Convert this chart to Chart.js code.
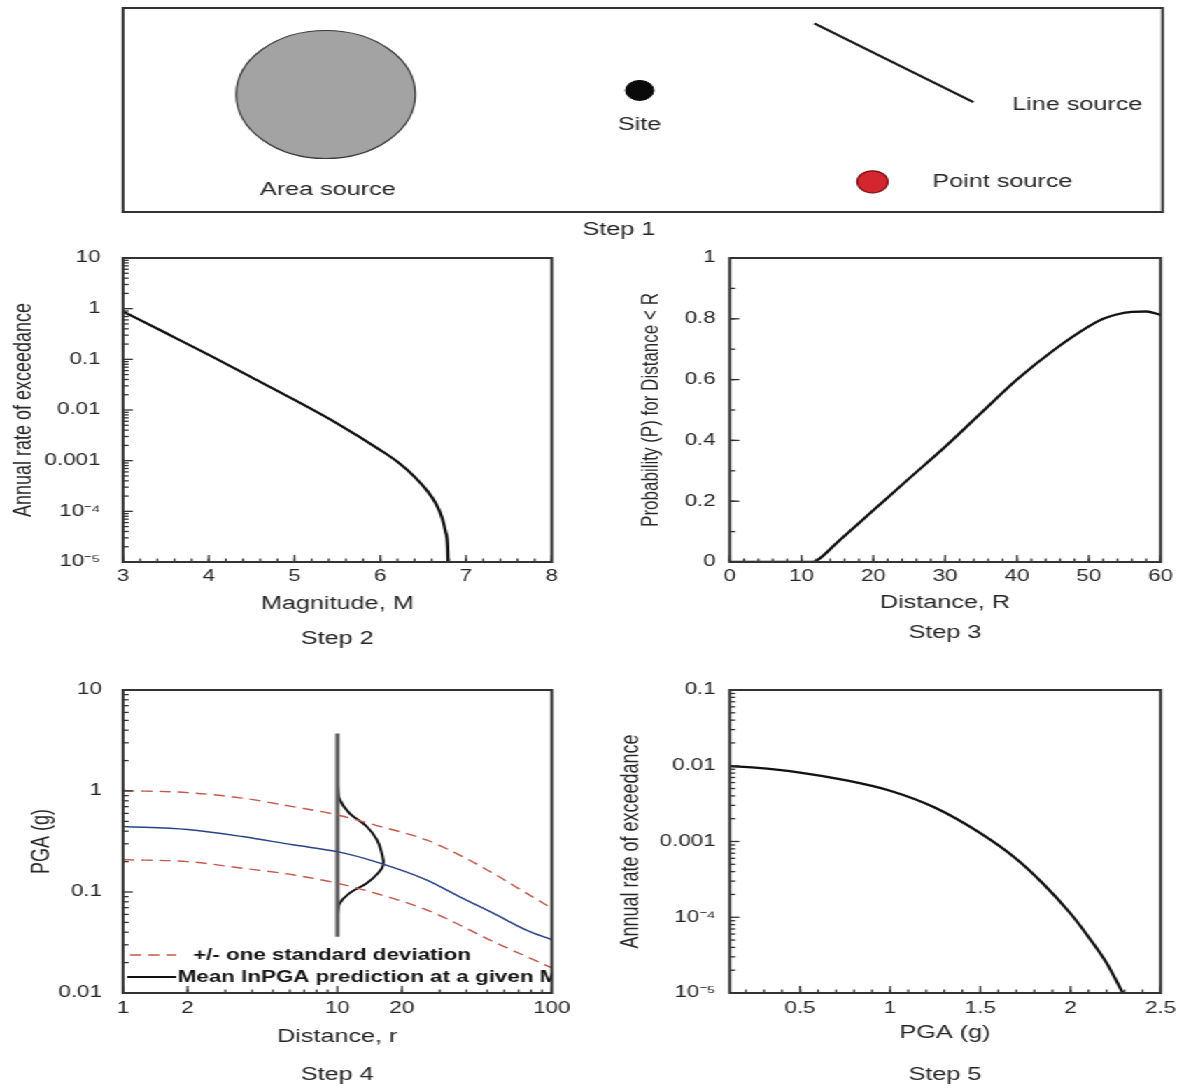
<!DOCTYPE html>
<html>
<head>
<meta charset="utf-8">
<script src="https://cdn.jsdelivr.net/npm/chart.js@4.4.0/dist/chart.umd.min.js"></script>
<style>
  html, body { margin: 0; padding: 0; background: #fff; overflow: hidden; }
  /* the source figure is stretched sideways, so the whole page is too */
  #page { position: relative; width: 846px; height: 1092px; transform: scaleX(1.3995); transform-origin: 0 0; }
  #page canvas { position: absolute; }
</style>
</head>
<body>
<div id="page">
  <canvas id="step1" width="846" height="250" style="left:0;top:0"></canvas>
  <canvas id="step2" width="423" height="420" style="left:0;top:240px"></canvas>
  <canvas id="step3" width="423" height="420" style="left:423px;top:240px"></canvas>
  <canvas id="step4" width="423" height="422" style="left:0;top:670px"></canvas>
  <canvas id="step5" width="423" height="422" style="left:423px;top:670px"></canvas>
</div>
<script>
const FONT = "'Liberation Sans', Arial, Helvetica, sans-serif";
const INK = '#262626';

// Step 1 - source map, positions in percent of the map frame
const mapNames = ['Area source', 'Site', 'Line source', 'Point source'];
const mapNameX = [19.7, 49.7, 91.8, 84.6];
const mapNameY = [10.8, 42.8, 52.5, 14.8];
const areaSrcX = [19.5], areaSrcY = [57.6];
const siteX = [49.7], siteY = [59.6];
const lineSrcX = [66.5, 81.8], lineSrcY = [92.5, 53.9];
const pointSrcX = [72.1], pointSrcY = [14.8];

// Step 2 - magnitude recurrence
const magM = [3.0, 3.5, 4.0, 4.5, 5.0, 5.5, 6.0, 6.2, 6.4, 6.55, 6.65, 6.72, 6.76, 6.785, 6.79];
const magRate = [0.88, 0.33, 0.1225, 0.044, 0.0158, 0.0054, 0.00162, 0.00095, 0.00048, 0.00025, 0.00014, 0.000075, 0.00004, 0.00002, 0.00001];
const magTicks = [3, 4, 5, 6, 7, 8];
const rate2Ticks = [1e-5, 1e-4, 1e-3, 0.01, 0.1, 1, 10];
const rate2Labels = ['10⁻⁵', '10⁻⁴', '0.001', '0.01', '0.1', '1', '10'];

// Step 3 - distance distribution
const distR = [0, 5, 10, 11.6, 12.5, 15, 20, 25, 30, 35, 40, 45, 50, 52, 54, 56, 58, 60];
const probR = [0, 0, 0, 0, 0.011, 0.065, 0.17, 0.275, 0.379, 0.49, 0.6, 0.695, 0.775, 0.8, 0.815, 0.823, 0.824, 0.813];
const distTicks = [0, 10, 20, 30, 40, 50, 60];
const probTicks = [0, 0.2, 0.4, 0.6, 0.8, 1];

// Step 4 - ground motion prediction
const distr = [1, 2, 3.6, 6.2, 10, 15, 26, 37, 53, 76, 100];
const pgaMean = [0.445, 0.415, 0.354, 0.293, 0.251, 0.2, 0.132, 0.09, 0.062, 0.042, 0.0337];
const pgaPlus = [1.01, 0.964, 0.85, 0.70, 0.58, 0.46, 0.328, 0.233, 0.154, 0.0975, 0.069];
const pgaMinus = [0.209, 0.2, 0.172, 0.148, 0.122, 0.0975, 0.0667, 0.0474, 0.0324, 0.023, 0.0177];
const pdfBaseX = [10, 10], pdfBaseY = [0.036, 3.7];
const pdfX = [10, 10.27, 11.4, 13.7, 15.3, 16.1, 16.35, 15.5, 13.7, 11.4, 10.27, 10];
const pdfY = [1.106, 0.817, 0.60, 0.445, 0.328, 0.242, 0.186, 0.154, 0.122, 0.0975, 0.0776, 0.0618];
const r4Ticks = [1, 2, 10, 20, 100];
const pga4Ticks = [0.01, 0.1, 1, 10];
const legend4 = ['+/- one standard deviation', 'Mean lnPGA prediction at a given M'];

// Step 5 - hazard curve
const pga5 = [0.11, 0.25, 0.5, 0.75, 1.0, 1.25, 1.5, 1.7, 1.85, 2.0, 2.1, 2.2, 2.29];
const haz5 = [0.0099, 0.00944, 0.00813, 0.00646, 0.00468, 0.00279, 0.00129, 0.000589, 0.000275, 0.000112, 0.000055, 0.000025, 0.00001];
const pga5Ticks = [0.5, 1, 1.5, 2, 2.5];
const rate5Ticks = [1e-5, 1e-4, 1e-3, 0.01, 0.1];
const rate5Labels = ['10⁻⁵', '10⁻⁴', '0.001', '0.01', '0.1'];

const pts = (xs, ys) => xs.map((x, i) => ({x: x, y: ys[i]}));

function logMinor(lo, hi) {
    const out = [];
    for (let e = Math.floor(Math.log10(lo)); e < Math.ceil(Math.log10(hi)); e++) {
        for (let k = 2; k <= 9; k++) {
            const v = k * Math.pow(10, e);
            if (v > lo && v < hi) out.push(v);
        }
    }
    return out;
}
function linMinor(lo, hi, step) {
    const out = [];
    for (let v = lo; v <= hi + 1e-9; v += step) out.push(+v.toFixed(4));
    return out;
}

// box round the plot area with small ticks pointing in
function frame(xMinor, yMinor) {
    return {
        id: 'frame',
        afterDraw(chart) {
            const {ctx, chartArea: a, scales} = chart;
            ctx.save();
            ctx.strokeStyle = '#333';
            ctx.lineWidth = 1.3;
            const mark = (scale, vals, len) => vals.forEach(v => {
                const p = scale.getPixelForValue(v);
                ctx.beginPath();
                if (scale.isHorizontal()) { ctx.moveTo(p, a.bottom); ctx.lineTo(p, a.bottom - len); }
                else { ctx.moveTo(a.left, p); ctx.lineTo(a.left + len, p); }
                ctx.stroke();
            });
            if (xMinor) {
                mark(scales.x, scales.x.ticks.map(t => t.value), 7);
                mark(scales.x, xMinor, 3.5);
                mark(scales.y, scales.y.ticks.map(t => t.value), 7);
                mark(scales.y, yMinor, 4);
            }
            ctx.lineWidth = 2;
            ctx.strokeRect(a.left, a.top, a.right - a.left, a.bottom - a.top);
            ctx.restore();
        }
    };
}

function caption(text, dy, xVal) {
    return {
        id: 'caption',
        afterDraw(chart) {
            const {ctx, chartArea: a} = chart;
            const x = xVal === undefined ? (a.left + a.right) / 2 : chart.scales.x.getPixelForValue(xVal);
            ctx.save();
            ctx.font = '18px ' + FONT;
            ctx.fillStyle = INK;
            ctx.textAlign = 'center';
            ctx.textBaseline = 'middle';
            ctx.fillText(text, x, a.bottom + dy);
            ctx.restore();
        }
    };
}

function axis(a, horiz) {
    return {
        type: a.type,
        min: a.min,
        max: a.max,
        grid: { display: false, drawTicks: false },
        border: { display: false },
        ticks: {
            autoSkip: false, maxRotation: 0, padding: a.tickPad, color: INK,
            font: { family: FONT, size: 16 },
            callback: (v, i) => a.labels ? a.labels[i] : String(a.ticks[i])
        },
        afterBuildTicks: s => { s.ticks = a.ticks.map(v => ({value: v})); },
        afterFit: s => {
            if (horiz) s.height = a.size; else s.width = a.size;
            s.paddingLeft = s.paddingRight = s.paddingTop = s.paddingBottom = 0;
        },
        title: {
            display: true, text: a.title, color: INK,
            font: { family: FONT, size: a.titleSize || 18 },
            padding: horiz ? {top: 0, bottom: 0} : {top: a.titlePad, bottom: 0}
        }
    };
}

function plot(id, c) {
    return new Chart(document.getElementById(id), {
        type: 'line',
        data: { datasets: c.datasets },
        options: {
            responsive: false, devicePixelRatio: 1, animation: false, events: [],
            layout: { padding: c.pad, autoPadding: false },
            elements: { point: { radius: 0 } },
            plugins: { legend: { display: false }, tooltip: { enabled: false } },
            scales: { x: axis(c.x, true), y: axis(c.y, false) }
        },
        plugins: [frame(c.xMinor, c.yMinor), caption(c.step, c.stepDy)].concat(c.extra || [])
    });
}

// ---- Step 1 ----
const mapLabels = {
    id: 'mapLabels',
    afterDraw(chart) {
        const {ctx, scales} = chart;
        ctx.save();
        ctx.font = '18px ' + FONT;
        ctx.fillStyle = INK;
        ctx.textAlign = 'center';
        ctx.textBaseline = 'middle';
        mapNames.forEach((n, i) => ctx.fillText(n, scales.x.getPixelForValue(mapNameX[i]), scales.y.getPixelForValue(mapNameY[i])));
        ctx.restore();
    }
};

new Chart(document.getElementById('step1'), {
    type: 'scatter',
    data: {
        datasets: [
            { data: pts(areaSrcX, areaSrcY), pointRadius: 64, backgroundColor: '#a3a3a3', borderColor: '#3a3a3a', borderWidth: 1.2 },
            { data: pts(siteX, siteY), pointRadius: 10, backgroundColor: '#0a0a0a', borderColor: '#0a0a0a', borderWidth: 1 },
            { data: pts(pointSrcX, pointSrcY), pointRadius: 11, backgroundColor: '#d3262e', borderColor: '#7a1015', borderWidth: 1.2 },
            { type: 'line', data: pts(lineSrcX, lineSrcY), showLine: true, pointRadius: 0, borderColor: '#1a1a1a', borderWidth: 2.2 }
        ]
    },
    options: {
        responsive: false, devicePixelRatio: 1, animation: false, events: [],
        layout: { padding: { left: 87.9, right: 15.3, top: 8, bottom: 38 }, autoPadding: false },
        plugins: { legend: { display: false }, tooltip: { enabled: false } },
        scales: {
            x: { type: 'linear', min: 0, max: 100, display: false },
            y: { type: 'linear', min: 0, max: 100, display: false }
        }
    },
    plugins: [frame(null, null), mapLabels, caption('Step 1', 18, 47.7)]
});

// ---- Step 2 ----
plot('step2', {
    datasets: [
        { data: pts(magM, magRate), borderColor: '#111', borderWidth: 2.3, cubicInterpolationMode: 'monotone' }
    ],
    pad: { left: 0, top: 18, right: 28.7, bottom: 45.2 },
    x: { type: 'linear', min: 3, max: 8, ticks: magTicks, tickPad: 5, size: 52.8, title: 'Magnitude, M' },
    y: { type: 'logarithmic', min: 1e-5, max: 10, ticks: rate2Ticks, labels: rate2Labels, tickPad: 16, size: 87.9, titlePad: 6, title: 'Annual rate of exceedance' },
    xMinor: linMinor(3, 8, 0.2), yMinor: logMinor(1e-5, 10),
    step: 'Step 2', stepDy: 77
});

// ---- Step 3 ----
plot('step3', {
    datasets: [
        { data: pts(distR, probR), borderColor: '#111', borderWidth: 2.3, cubicInterpolationMode: 'monotone' }
    ],
    pad: { left: 0, top: 18, right: 16.7, bottom: 46.2 },
    x: { type: 'linear', min: 0, max: 60, ticks: distTicks, tickPad: 5, size: 51.8, title: 'Distance, R' },
    y: { type: 'linear', min: 0, max: 1, ticks: probTicks, tickPad: 10, size: 98.4, titlePad: 32.2, titleSize: 17, title: 'Probability (P) for Distance < R' },
    xMinor: linMinor(0, 60, 2), yMinor: linMinor(0, 1, 0.1),
    step: 'Step 3', stepDy: 71
});

// ---- Step 4 ----
const legend4Colors = ['#c0594f', '#111'];
const legend4Dash = [[8, 5], []];
const legend4Start = [5, 3];
const legend4Text = [50, 39];
const legend4Rows = [38, 16];
const lineLegend = {
    id: 'lineLegend',
    afterDraw(chart) {
        const {ctx, chartArea: a} = chart;
        ctx.save();
        ctx.beginPath();
        ctx.rect(a.left, a.top, a.right - a.left, a.bottom - a.top);
        ctx.clip();
        ctx.font = 'bold 16px ' + FONT;
        ctx.textBaseline = 'middle';
        ctx.fillStyle = '#151515';
        legend4.forEach((t, i) => {
            const y = a.bottom - legend4Rows[i];
            ctx.strokeStyle = legend4Colors[i];
            ctx.lineWidth = i ? 2 : 1.5;
            ctx.setLineDash(legend4Dash[i]);
            ctx.beginPath();
            ctx.moveTo(a.left + legend4Start[i], y);
            ctx.lineTo(a.left + 38, y);
            ctx.stroke();
            ctx.fillText(t, a.left + legend4Text[i], y + 1);
        });
        ctx.restore();
    }
};

plot('step4', {
    datasets: [
        { data: pts(distr, pgaPlus), borderColor: '#c0594f', borderWidth: 1.4, borderDash: [8, 5], cubicInterpolationMode: 'monotone' },
        { data: pts(distr, pgaMinus), borderColor: '#c0594f', borderWidth: 1.4, borderDash: [8, 5], cubicInterpolationMode: 'monotone' },
        { data: pts(distr, pgaMean), borderColor: '#2b4384', borderWidth: 1.5, cubicInterpolationMode: 'monotone' },
        { data: pts(pdfBaseX, pdfBaseY), borderColor: '#5a5a5a', borderWidth: 3 },
        { data: pts(pdfX, pdfY), borderColor: '#111', borderWidth: 2, tension: 0.4 }
    ],
    pad: { left: 0, top: 20, right: 28.7, bottom: 44.5 },
    x: { type: 'logarithmic', min: 1, max: 100, ticks: r4Ticks, tickPad: 6, size: 54.5, title: 'Distance, r' },
    y: { type: 'logarithmic', min: 0.01, max: 10, ticks: pga4Ticks, tickPad: 15, size: 87.9, titlePad: 19, title: 'PGA (g)' },
    xMinor: logMinor(1, 100), yMinor: logMinor(0.01, 10),
    step: 'Step 4', stepDy: 82,
    extra: [lineLegend]
});

// ---- Step 5 ----
plot('step5', {
    datasets: [
        { data: pts(pga5, haz5), borderColor: '#111', borderWidth: 2.3, cubicInterpolationMode: 'monotone' }
    ],
    pad: { left: 0, top: 20, right: 16.7, bottom: 48.2 },
    x: { type: 'linear', min: 0.11, max: 2.5, ticks: pga5Ticks, tickPad: 6, size: 50.8, title: 'PGA (g)' },
    y: { type: 'logarithmic', min: 1e-5, max: 0.1, ticks: rate5Ticks, labels: rate5Labels, tickPad: 10, size: 98.4, titlePad: 16.9, title: 'Annual rate of exceedance' },
    xMinor: linMinor(0.2, 2.4, 0.1), yMinor: logMinor(1e-5, 0.1),
    step: 'Step 5', stepDy: 82
});
</script>
</body>
</html>
